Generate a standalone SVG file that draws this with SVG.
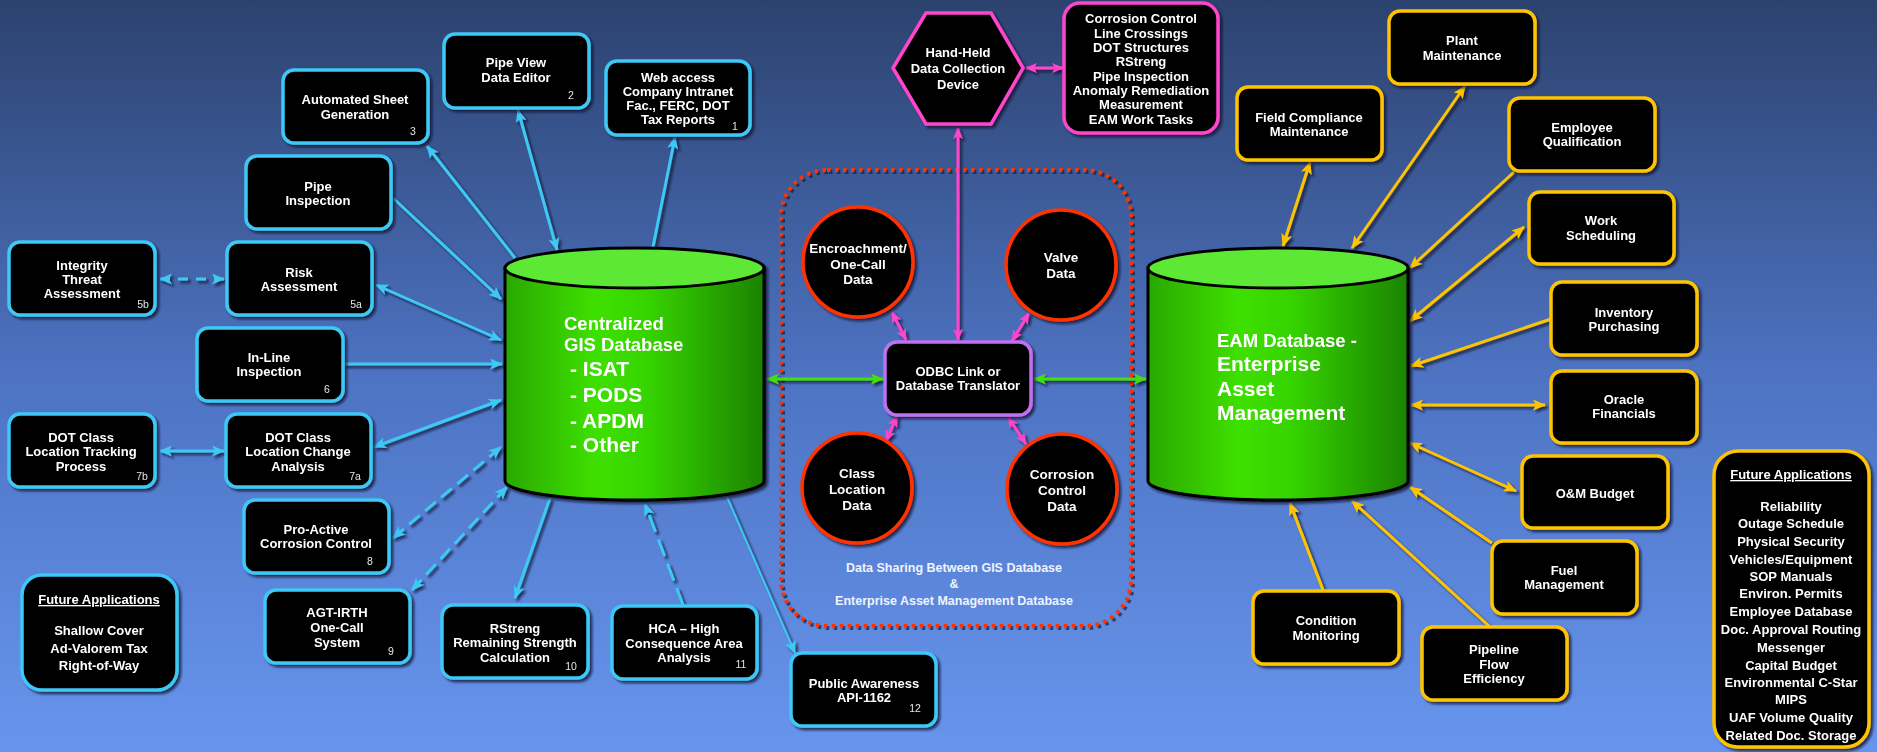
<svg xmlns="http://www.w3.org/2000/svg" width="1877" height="752" viewBox="0 0 1877 752">
<defs>
<linearGradient id="bg" x1="0" y1="0" x2="0" y2="1">
<stop offset="0" stop-color="#2c426e"/>
<stop offset="0.5" stop-color="#4d73c2"/>
<stop offset="1" stop-color="#6795ee"/>
</linearGradient>
<linearGradient id="cyl" x1="0" y1="0" x2="1" y2="0">
<stop offset="0" stop-color="#2aa800"/>
<stop offset="0.35" stop-color="#3ee000"/>
<stop offset="0.55" stop-color="#36d400"/>
<stop offset="1" stop-color="#1c8200"/>
</linearGradient>
<filter id="sh" x="-10%" y="-10%" width="130%" height="130%">
<feDropShadow dx="2.5" dy="2.5" stdDeviation="0.8" flood-color="#0b1426" flood-opacity="0.75"/>
</filter>
<marker id="mc" viewBox="0 0 13 11" refX="12" refY="5.5" markerWidth="13" markerHeight="11" markerUnits="userSpaceOnUse" orient="auto-start-reverse"><path d="M0,0 L13,5.5 L0,11 L3,5.5 z" fill="#3ec8f5"/></marker>
<marker id="my" viewBox="0 0 13 11" refX="12" refY="5.5" markerWidth="13" markerHeight="11" markerUnits="userSpaceOnUse" orient="auto-start-reverse"><path d="M0,0 L13,5.5 L0,11 L3,5.5 z" fill="#ffc400"/></marker>
<marker id="mm" viewBox="0 0 13 11" refX="12" refY="5.5" markerWidth="12" markerHeight="10" markerUnits="userSpaceOnUse" orient="auto-start-reverse"><path d="M0,0 L13,5.5 L0,11 L3,5.5 z" fill="#ff44cc"/></marker>
<marker id="mg" viewBox="0 0 13 11" refX="12" refY="5.5" markerWidth="13" markerHeight="11" markerUnits="userSpaceOnUse" orient="auto-start-reverse"><path d="M0,0 L13,5.5 L0,11 L3,5.5 z" fill="#44dd11"/></marker>
<style>
.cb{fill:#000;stroke:#3ec8f5;stroke-width:3.5}
.yb{fill:#000;stroke:#ffc400;stroke-width:3.5}
.n{font-family:"Liberation Sans",Arial,sans-serif;font-weight:bold;font-size:13px;fill:#fff;text-anchor:middle}
.w{font-family:"Liberation Sans",Arial,sans-serif;font-weight:bold;font-size:13px;fill:#fff;text-anchor:middle}
.num{font-family:"Liberation Sans",Arial,sans-serif;font-size:10.5px;fill:#e6e6e6;text-anchor:middle}
.big{font-family:"Liberation Sans",Arial,sans-serif;font-weight:bold;fill:#fff}
.c{fill:none;stroke:#3ec8f5;stroke-width:3}
.y{fill:none;stroke:#ffc400;stroke-width:3}
.m{fill:none;stroke:#ff44cc;stroke-width:3}
.g{fill:none;stroke:#44dd11;stroke-width:3}
.circ{fill:#000;stroke:#ff3300;stroke-width:3.5}
</style>
</defs>
<rect x="0" y="0" width="1877" height="752" fill="url(#bg)"/>

<!-- dotted boundary -->
<g id="sharing-zone">
<rect x="783" y="172" width="350" height="456" rx="46" fill="none" stroke="#14203c" stroke-width="4" stroke-dasharray="3.5 4.5" opacity="0.7"/>
<rect x="781" y="170" width="350" height="456" rx="46" fill="none" stroke="#ff3300" stroke-width="4" stroke-dasharray="3.5 4.5"/>
<text class="w" x="954" y="572" style="font-size:12.5px;fill:#eef3ff">Data Sharing Between GIS Database</text>
<text class="w" x="954" y="588" style="font-size:12.5px;fill:#eef3ff">&amp;</text>
<text class="w" x="954" y="605" style="font-size:12.5px;fill:#eef3ff">Enterprise Asset Management Database</text>
</g>

<!-- connectors -->
<g id="connectors" filter="url(#sh)">
<path class="c" d="M653,247 L675,137" marker-end="url(#mc)"/>
<path class="c" d="M518,110 L557,250" marker-start="url(#mc)" marker-end="url(#mc)"/>
<path class="c" d="M515,258 L427,146" marker-end="url(#mc)"/>
<path class="c" d="M393,198 L501,299" marker-end="url(#mc)"/>
<path class="c" d="M376,285 L501,340" marker-start="url(#mc)" marker-end="url(#mc)"/>
<path class="c" d="M343,364 L502,364" marker-end="url(#mc)"/>
<path class="c" d="M374,447 L501,400" marker-start="url(#mc)" marker-end="url(#mc)"/>
<path class="c" d="M550,498 L515,598" marker-end="url(#mc)"/>
<path class="c" d="M727,497 L795,653" style="stroke-width:2" marker-end="url(#mc)"/>
<path class="c" d="M160,451 L224,451" marker-start="url(#mc)" marker-end="url(#mc)"/>
<path class="c" d="M393,538 L501,447" stroke-dasharray="14 7" marker-start="url(#mc)" marker-end="url(#mc)"/>
<path class="c" d="M412,590 L507,487" stroke-dasharray="14 7" marker-start="url(#mc)" marker-end="url(#mc)"/>
<path class="c" d="M683,605 L645,504" stroke-dasharray="18 8" marker-end="url(#mc)"/>
<path class="c" d="M160,279 L224,279" stroke-dasharray="10 8" marker-start="url(#mc)" marker-end="url(#mc)"/>

<path class="y" d="M1310,162 L1283,246" marker-start="url(#my)" marker-end="url(#my)"/>
<path class="y" d="M1465,86 L1352,248" marker-start="url(#my)" marker-end="url(#my)"/>
<path class="y" d="M1514,172 L1410,268" marker-end="url(#my)"/>
<path class="y" d="M1524,227 L1410,321" marker-start="url(#my)" marker-end="url(#my)"/>
<path class="y" d="M1551,319 L1411,366" marker-end="url(#my)"/>
<path class="y" d="M1411,405 L1545,405" marker-start="url(#my)" marker-end="url(#my)"/>
<path class="y" d="M1410,443 L1516,491" marker-start="url(#my)" marker-end="url(#my)"/>
<path class="y" d="M1492,543 L1410,487" marker-end="url(#my)"/>
<path class="y" d="M1489,626 L1352,501" marker-end="url(#my)"/>
<path class="y" d="M1323,590 L1290,503" marker-end="url(#my)"/>

<path class="m" d="M1026,68 L1063,68" marker-start="url(#mm)" marker-end="url(#mm)"/>
<path class="m" d="M958,128 L958,340" marker-start="url(#mm)" marker-end="url(#mm)"/>
<path class="m" d="M892,312 L906,340" marker-start="url(#mm)" marker-end="url(#mm)"/>
<path class="m" d="M1029,313 L1012,341" marker-start="url(#mm)" marker-end="url(#mm)"/>
<path class="m" d="M897,416 L886,441" marker-start="url(#mm)" marker-end="url(#mm)"/>
<path class="m" d="M1008,417 L1026,444" marker-start="url(#mm)" marker-end="url(#mm)"/>

<path class="g" d="M767,379 L883,379" marker-start="url(#mg)" marker-end="url(#mg)"/>
<path class="g" d="M1034,379 L1146,379" marker-start="url(#mg)" marker-end="url(#mg)"/>
</g>

<!-- GIS cylinder -->
<g id="gis-db" filter="url(#sh)">
<path d="M505,268 L505,481 A129.5,19 0 0 0 764,481 L764,268 Z" fill="url(#cyl)" stroke="#000" stroke-width="3"/>
<ellipse cx="634.5" cy="268" rx="129.5" ry="20" fill="#5ce836" stroke="#000" stroke-width="3"/>
<text class="big" x="564" y="330" style="font-size:18.5px">Centralized</text>
<text class="big" x="564" y="351" style="font-size:18.5px">GIS Database</text>
<text class="big" x="570" y="376" style="font-size:21px">- ISAT</text>
<text class="big" x="570" y="402" style="font-size:21px">- PODS</text>
<text class="big" x="570" y="428" style="font-size:21px">- APDM</text>
<text class="big" x="570" y="452" style="font-size:21px">- Other</text>
</g>

<!-- EAM cylinder -->
<g id="eam-db" filter="url(#sh)">
<path d="M1148,268 L1148,481 A130,19 0 0 0 1408,481 L1408,268 Z" fill="url(#cyl)" stroke="#000" stroke-width="3"/>
<ellipse cx="1278" cy="268" rx="130" ry="20" fill="#5ce836" stroke="#000" stroke-width="3"/>
<text class="big" x="1217" y="347" style="font-size:18.5px">EAM Database -</text>
<text class="big" x="1217" y="371" style="font-size:21px">Enterprise</text>
<text class="big" x="1217" y="396" style="font-size:21px">Asset</text>
<text class="big" x="1217" y="420" style="font-size:21px">Management</text>
</g>

<!-- cyan boxes -->
<g id="web-access" filter="url(#sh)"><rect class="cb" x="606" y="61" width="144" height="74" rx="11"/>
<text class="n" x="678" y="82">Web access</text><text class="n" x="678" y="96">Company Intranet</text><text class="n" x="678" y="110">Fac., FERC, DOT</text><text class="n" x="678" y="124">Tax Reports</text><text class="num" x="735" y="130">1</text></g>
<g id="pipe-view" filter="url(#sh)"><rect class="cb" x="444" y="34" width="145" height="74" rx="11"/>
<text class="n" x="516" y="67">Pipe View</text><text class="n" x="516" y="82">Data Editor</text><text class="num" x="571" y="99">2</text></g>
<g id="auto-sheet" filter="url(#sh)"><rect class="cb" x="283" y="70" width="145" height="73" rx="11"/>
<text class="n" x="355" y="104">Automated Sheet</text><text class="n" x="355" y="119">Generation</text><text class="num" x="413" y="135">3</text></g>
<g id="pipe-inspection" filter="url(#sh)"><rect class="cb" x="246" y="156" width="145" height="73" rx="11"/>
<text class="n" x="318" y="191">Pipe</text><text class="n" x="318" y="205">Inspection</text></g>
<g id="risk" filter="url(#sh)"><rect class="cb" x="227" y="242" width="145" height="73" rx="11"/>
<text class="n" x="299" y="277">Risk</text><text class="n" x="299" y="291">Assessment</text><text class="num" x="356" y="308">5a</text></g>
<g id="integrity" filter="url(#sh)"><rect class="cb" x="9" y="242" width="146" height="73" rx="11"/>
<text class="n" x="82" y="270">Integrity</text><text class="n" x="82" y="284">Threat</text><text class="n" x="82" y="298">Assessment</text><text class="num" x="143" y="308">5b</text></g>
<g id="inline" filter="url(#sh)"><rect class="cb" x="197" y="328" width="146" height="73" rx="11"/>
<text class="n" x="269" y="362">In-Line</text><text class="n" x="269" y="376">Inspection</text><text class="num" x="327" y="393">6</text></g>
<g id="dot-change" filter="url(#sh)"><rect class="cb" x="226" y="414" width="145" height="73" rx="11"/>
<text class="n" x="298" y="442">DOT Class</text><text class="n" x="298" y="456">Location Change</text><text class="n" x="298" y="471">Analysis</text><text class="num" x="355" y="480">7a</text></g>
<g id="dot-tracking" filter="url(#sh)"><rect class="cb" x="9" y="414" width="146" height="73" rx="11"/>
<text class="n" x="81" y="442">DOT Class</text><text class="n" x="81" y="456">Location Tracking</text><text class="n" x="81" y="471">Process</text><text class="num" x="142" y="480">7b</text></g>
<g id="proactive" filter="url(#sh)"><rect class="cb" x="244" y="500" width="145" height="73" rx="11"/>
<text class="n" x="316" y="534">Pro-Active</text><text class="n" x="316" y="548">Corrosion Control</text><text class="num" x="370" y="565">8</text></g>
<g id="agt-irth" filter="url(#sh)"><rect class="cb" x="265" y="590" width="145" height="73" rx="11"/>
<text class="n" x="337" y="617">AGT-IRTH</text><text class="n" x="337" y="632">One-Call</text><text class="n" x="337" y="647">System</text><text class="num" x="391" y="655">9</text></g>
<g id="rstreng" filter="url(#sh)"><rect class="cb" x="442" y="605" width="146" height="73" rx="11"/>
<text class="n" x="515" y="633">RStreng</text><text class="n" x="515" y="647">Remaining Strength</text><text class="n" x="515" y="662">Calculation</text><text class="num" x="571" y="670">10</text></g>
<g id="hca" filter="url(#sh)"><rect class="cb" x="612" y="606" width="145" height="73" rx="11"/>
<text class="n" x="684" y="633">HCA – High</text><text class="n" x="684" y="648">Consequence Area</text><text class="n" x="684" y="662">Analysis</text><text class="num" x="741" y="668">11</text></g>
<g id="public-awareness" filter="url(#sh)"><rect class="cb" x="791" y="653" width="145" height="73" rx="11"/>
<text class="n" x="864" y="688">Public Awareness</text><text class="n" x="864" y="702">API-1162</text><text class="num" x="915" y="712">12</text></g>
<g id="future-left" filter="url(#sh)"><rect class="cb" x="22" y="575" width="155" height="115" rx="20"/>
<text class="n" x="99" y="604" text-decoration="underline">Future Applications</text>
<text class="n" x="99" y="635">Shallow Cover</text><text class="n" x="99" y="653">Ad-Valorem Tax</text><text class="n" x="99" y="670">Right-of-Way</text></g>

<!-- center nodes -->
<g id="handheld" filter="url(#sh)"><polygon points="893,68 926,13 991,13 1023,68 991,124 926,124" fill="#000" stroke="#ff44cc" stroke-width="3.5"/>
<text class="w" x="958" y="57">Hand-Held</text><text class="w" x="958" y="73">Data Collection</text><text class="w" x="958" y="89">Device</text></g>
<g id="field-tasks" filter="url(#sh)"><rect x="1064" y="3" width="154" height="130" rx="16" fill="#000" stroke="#ff44cc" stroke-width="3.5"/>
<text class="w" x="1141" y="23">Corrosion Control</text><text class="w" x="1141" y="38">Line Crossings</text><text class="w" x="1141" y="52">DOT Structures</text><text class="w" x="1141" y="66">RStreng</text><text class="w" x="1141" y="81">Pipe Inspection</text><text class="w" x="1141" y="95">Anomaly Remediation</text><text class="w" x="1141" y="109">Measurement</text><text class="w" x="1141" y="124">EAM Work Tasks</text></g>
<g id="odbc" filter="url(#sh)"><rect x="885" y="342" width="146" height="73" rx="12" fill="#000" stroke="#c070f0" stroke-width="3.5"/>
<text class="w" x="958" y="376">ODBC Link or</text><text class="w" x="958" y="390">Database Translator</text></g>
<g id="encroachment" filter="url(#sh)"><circle class="circ" cx="858" cy="262" r="55"/>
<text class="w" x="858" y="253" style="font-size:13.5px">Encroachment/</text><text class="w" x="858" y="269" style="font-size:13.5px">One-Call</text><text class="w" x="858" y="284" style="font-size:13.5px">Data</text></g>
<g id="valve" filter="url(#sh)"><circle class="circ" cx="1061" cy="265" r="55"/>
<text class="w" x="1061" y="262" style="font-size:13.5px">Valve</text><text class="w" x="1061" y="278" style="font-size:13.5px">Data</text></g>
<g id="class-location" filter="url(#sh)"><circle class="circ" cx="857" cy="488" r="55"/>
<text class="w" x="857" y="478" style="font-size:13.5px">Class</text><text class="w" x="857" y="494" style="font-size:13.5px">Location</text><text class="w" x="857" y="510" style="font-size:13.5px">Data</text></g>
<g id="corrosion-data" filter="url(#sh)"><circle class="circ" cx="1062" cy="489" r="55"/>
<text class="w" x="1062" y="479" style="font-size:13.5px">Corrosion</text><text class="w" x="1062" y="495" style="font-size:13.5px">Control</text><text class="w" x="1062" y="511" style="font-size:13.5px">Data</text></g>

<!-- yellow boxes -->
<g id="plant" filter="url(#sh)"><rect class="yb" x="1389" y="11" width="146" height="73" rx="11"/>
<text class="n" x="1462" y="45">Plant</text><text class="n" x="1462" y="60">Maintenance</text></g>
<g id="field-compliance" filter="url(#sh)"><rect class="yb" x="1237" y="87" width="145" height="73" rx="11"/>
<text class="n" x="1309" y="122">Field Compliance</text><text class="n" x="1309" y="136">Maintenance</text></g>
<g id="employee" filter="url(#sh)"><rect class="yb" x="1509" y="98" width="146" height="73" rx="11"/>
<text class="n" x="1582" y="132">Employee</text><text class="n" x="1582" y="146">Qualification</text></g>
<g id="work" filter="url(#sh)"><rect class="yb" x="1529" y="192" width="145" height="72" rx="11"/>
<text class="n" x="1601" y="225">Work</text><text class="n" x="1601" y="240">Scheduling</text></g>
<g id="inventory" filter="url(#sh)"><rect class="yb" x="1551" y="282" width="146" height="73" rx="11"/>
<text class="n" x="1624" y="317">Inventory</text><text class="n" x="1624" y="331">Purchasing</text></g>
<g id="oracle" filter="url(#sh)"><rect class="yb" x="1551" y="371" width="146" height="72" rx="11"/>
<text class="n" x="1624" y="404">Oracle</text><text class="n" x="1624" y="418">Financials</text></g>
<g id="om-budget" filter="url(#sh)"><rect class="yb" x="1522" y="456" width="146" height="72" rx="11"/>
<text class="n" x="1595" y="498">O&amp;M Budget</text></g>
<g id="fuel" filter="url(#sh)"><rect class="yb" x="1492" y="541" width="145" height="73" rx="11"/>
<text class="n" x="1564" y="575">Fuel</text><text class="n" x="1564" y="589">Management</text></g>
<g id="pipeline-flow" filter="url(#sh)"><rect class="yb" x="1422" y="627" width="145" height="73" rx="11"/>
<text class="n" x="1494" y="654">Pipeline</text><text class="n" x="1494" y="669">Flow</text><text class="n" x="1494" y="683">Efficiency</text></g>
<g id="condition" filter="url(#sh)"><rect class="yb" x="1253" y="591" width="146" height="73" rx="11"/>
<text class="n" x="1326" y="625">Condition</text><text class="n" x="1326" y="640">Monitoring</text></g>
<g id="future-right" filter="url(#sh)"><rect class="yb" x="1714" y="451" width="155" height="296" rx="24"/>
<text class="n" x="1791" y="479" text-decoration="underline">Future Applications</text>
<text class="n" x="1791" y="511">Reliability</text>
<text class="n" x="1791" y="528">Outage Schedule</text>
<text class="n" x="1791" y="546">Physical Security</text>
<text class="n" x="1791" y="564">Vehicles/Equipment</text>
<text class="n" x="1791" y="581">SOP Manuals</text>
<text class="n" x="1791" y="598">Environ. Permits</text>
<text class="n" x="1791" y="616">Employee Database</text>
<text class="n" x="1791" y="634">Doc. Approval Routing</text>
<text class="n" x="1791" y="652">Messenger</text>
<text class="n" x="1791" y="670">Capital Budget</text>
<text class="n" x="1791" y="687">Environmental C-Star</text>
<text class="n" x="1791" y="704">MIPS</text>
<text class="n" x="1791" y="722">UAF Volume Quality</text>
<text class="n" x="1791" y="740">Related Doc. Storage</text></g>
</svg>
